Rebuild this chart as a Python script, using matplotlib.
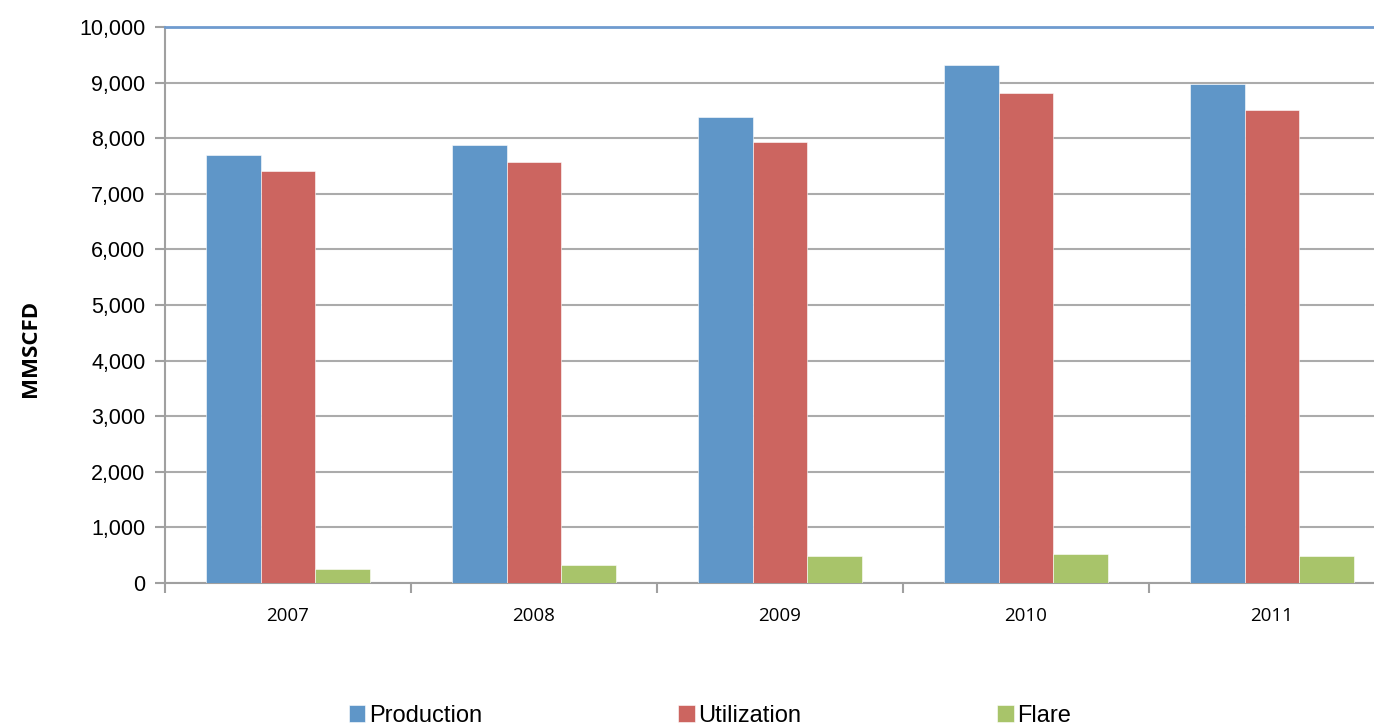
import numpy as np
import matplotlib.pyplot as plt
from matplotlib.ticker import FuncFormatter, FixedLocator

years = ["2007", "2008", "2009", "2010", "2011"]
production = [7700, 7880, 8380, 9320, 8975]
utilization = [7410, 7570, 7930, 8810, 8510]
flare = [250, 320, 485, 520, 485]

series = [("Production", production, "#5F96C8"),
          ("Utilization", utilization, "#CC6560"),
          ("Flare", flare, "#A8C46A")]

fig = plt.figure(figsize=(13.74, 7.27), dpi=100)
ax = fig.add_axes([165 / 1374, 1 - 583 / 727, 5 * 246 / 1374, 556 / 727])

x = np.arange(len(years))
w = 0.223
for i, (name, vals, col) in enumerate(series):
    ax.bar(x + (i - 1) * w, vals, width=w, color=col, label=name,
           edgecolor="white", linewidth=0.4, zorder=3)

ax.set_xlim(-0.5, len(years) - 0.5)
ax.set_ylim(0, 10000)
ax.set_yticks(np.arange(0, 10001, 1000))
ax.yaxis.set_major_formatter(FuncFormatter(lambda v, p: f"{int(v):,}"))
ax.yaxis.grid(True, color="#ABABAB", linewidth=1.5, zorder=0)
ax.axhline(10000, color="#6F9BCF", linewidth=2.0, zorder=4, clip_on=False)

ax.set_xticks(x)
ax.set_xticklabels(years, fontsize=13.5, family=["Open Sans", "DejaVu Sans"])
ax.xaxis.set_minor_locator(FixedLocator(np.arange(-0.5, len(years), 1)))
ax.tick_params(axis="x", which="major", length=0, pad=17)
ax.tick_params(axis="x", which="minor", length=7, width=1.5, color="#A0A0A0", direction="out")
ax.tick_params(axis="y", length=7, width=1.5, color="#A0A0A0", labelsize=15.5, pad=7)
for lab in ax.get_yticklabels():
    lab.set_family(["Liberation Sans", "DejaVu Sans"])

for s in ["top", "right"]:
    ax.spines[s].set_visible(False)
for s in ["left", "bottom"]:
    ax.spines[s].set_color("#A0A0A0")
    ax.spines[s].set_linewidth(1.5)

fig.text(30 / 1374, 1 - 348 / 727, "MMSCFD", rotation=90, ha="center", va="center",
         fontsize=16, fontweight="bold", family=["Open Sans", "DejaVu Sans"])

leg = fig.legend(loc="center", bbox_to_anchor=(710 / 1374, 1 - 716 / 727), ncol=3,
                 frameon=False, handlelength=0.7, handleheight=0.7, handletextpad=0.15,
                 columnspacing=8.3,
                 prop={"family": ["Liberation Sans Narrow", "Liberation Sans", "DejaVu Sans"], "size": 17})

fig.savefig("out.png", dpi=100)
